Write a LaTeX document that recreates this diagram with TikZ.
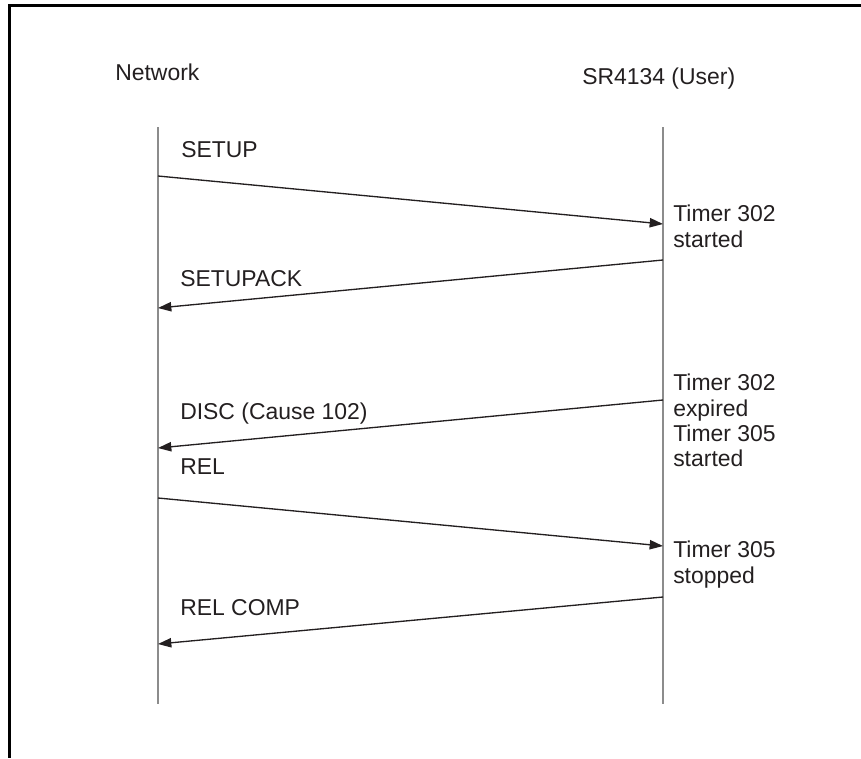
\documentclass[tikz,border=0pt]{standalone}
\usepackage{fontspec}
\setmainfont{Liberation Sans}
\usepackage{tikz}
\usetikzlibrary{arrows.meta, positioning}
\definecolor{msgdark}{HTML}{231F20}
\definecolor{lifegray}{HTML}{8C8C8C}
\tikzset{
  lbl/.style={font=\fontsize{17.2pt}{19pt}\selectfont, text=msgdark, inner sep=0pt},
  note/.style={lbl, align=left, anchor=north west},
  msg/.style={msgdark, line width=1pt, -{Triangle[length=10pt, width=7pt]}},
  life/.style={lifegray, line width=1.4pt},
}

\begin{document}
\begin{tikzpicture}[x=0.75pt, y=-0.75pt]
  \useasboundingbox (0,0) rectangle (861,758);

  % frame: only top and left edge show
  \draw[black, line width=2.4pt] (861,5.5) -- (9.5,5.5) -- (9.5,758);

  % headers
  \node[lbl, anchor=base west] (net) at (115,80) {Network};
  \node[lbl, anchor=base west] (usr) at (582,84) {SR4134 (User)};

  % lifelines
  \coordinate (netTop) at (158,127);
  \coordinate (netBot) at (158,704);
  \coordinate (usrTop) at (663,127);
  \coordinate (usrBot) at (663,704);
  \draw[life] (netTop) -- (netBot);
  \draw[life] (usrTop) -- (usrBot);

  % message ends on the lifelines
  \coordinate (n1) at (158,176); \coordinate (u1) at (663,224);
  \coordinate (u2) at (663,260); \coordinate (n2) at (158,308);
  \coordinate (u3) at (663,400); \coordinate (n3) at (158,448);
  \coordinate (n4) at (158,498); \coordinate (u4) at (663,546);
  \coordinate (u5) at (663,597); \coordinate (n5) at (158,644);

  % SETUP: network -> user
  \draw[msg] (n1) -- (u1);
  \node[lbl, anchor=base west] (setup) at (181,157) {SETUP};

  % SETUPACK: user -> network
  \draw[msg] (u2) -- (n2);
  \node[lbl, anchor=base west] (setupack) at (180,286) {SETUPACK};

  % DISC: user -> network
  \draw[msg] (u3) -- (n3);
  \node[lbl, anchor=base west] (disc) at (180,419) {DISC (Cause 102)};

  % REL: network -> user
  \draw[msg] (n4) -- (u4);
  \node[lbl, anchor=base west] (rel) at (180,474) {REL};

  % REL COMP: user -> network
  \draw[msg] (u5) -- (n5);
  \node[lbl, anchor=base west] (relcomp) at (180,615) {REL COMP};

  % timer notes on the user side
  \node[note] (t302a) at (673,205) {Timer 302\\started};
  \node[note] (t302b) at (673,374) {Timer 302\\expired\\Timer 305\\started};
  \node[note] (t305)  at (673,541) {Timer 305\\stopped};
\end{tikzpicture}
\end{document}
